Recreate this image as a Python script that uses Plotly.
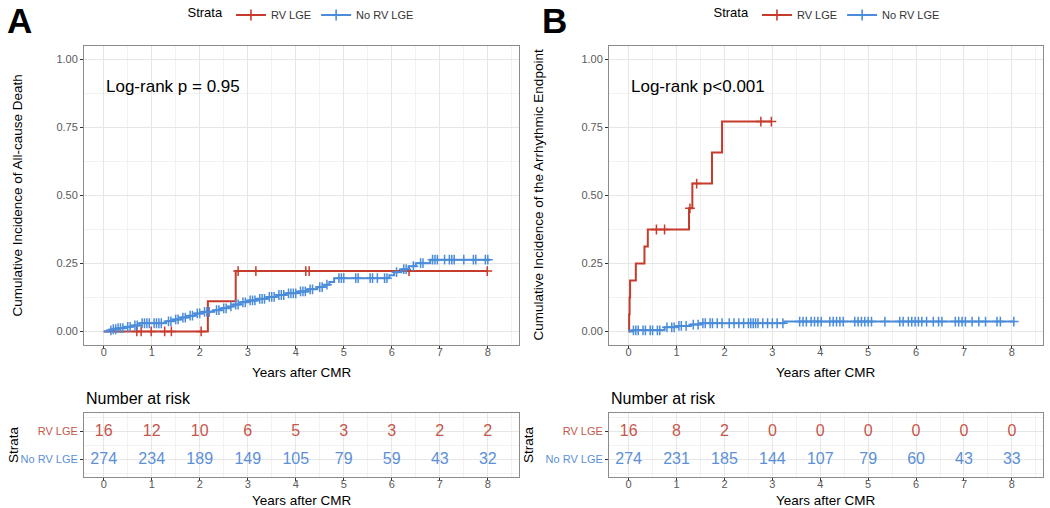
import plotly.graph_objects as go

# ---------------- data ----------------
RED = "#C63B2C"
BLUE = "#4A8CDA"
RED_TXT = "#C4564B"
BLUE_TXT = "#5C90D6"

years = [0, 1, 2, 3, 4, 5, 6, 7, 8]
strata = ["RV LGE", "No RV LGE"]

# Panel A: all-cause death
a_red_t = [0, 2.17, 2.75]
a_red_v = [0, 0.111, 0.222]
a_red_end = 8.0
a_red_cens = [0.69, 0.78, 0.99, 1.27, 1.41, 2.03, 2.8, 3.17, 4.21, 4.28, 6.36, 7.99]

a_blue_t = [0, 0.1, 0.2, 0.3, 0.45, 0.6, 0.75, 1.3, 1.45, 1.6, 1.75, 1.9, 2.05, 2.3, 2.45,
            2.6, 2.7, 2.85, 3.0, 3.2, 3.4, 3.6, 3.8, 4.05, 4.25, 4.45, 4.6, 4.7, 4.8, 5.95,
            6.05, 6.2, 6.35, 6.5, 6.8]
a_blue_v = [0, 0.004, 0.008, 0.012, 0.017, 0.022, 0.030, 0.037, 0.044, 0.051, 0.058, 0.066,
            0.072, 0.078, 0.085, 0.092, 0.099, 0.107, 0.114, 0.120, 0.127, 0.134, 0.140,
            0.147, 0.155, 0.163, 0.172, 0.182, 0.196, 0.207, 0.218, 0.229, 0.240, 0.251, 0.264]
a_blue_end = 8.05
a_blue_cens = [0.15, 0.2, 0.25, 0.3, 0.35, 0.4, 0.5, 0.55, 0.65, 0.7, 0.8, 0.85, 0.9, 0.95,
               1.05, 1.1, 1.15, 1.2, 1.35, 1.4, 1.5, 1.55, 1.65, 1.7, 1.8, 1.85, 1.95, 2.0,
               2.1, 2.15, 2.2, 2.35, 2.4, 2.5, 2.55, 2.65, 2.75, 2.8, 2.9, 2.95, 3.05, 3.1,
               3.15, 3.25, 3.3, 3.35, 3.45, 3.5, 3.55, 3.65, 3.7, 3.75, 3.85, 3.9, 3.95, 4.0,
               4.1, 4.15, 4.2, 4.3, 4.35, 4.5, 4.55, 4.65, 4.9, 4.95, 5.0, 5.25, 5.3, 5.55,
               5.6, 5.7, 5.85, 5.9, 6.1, 6.25, 6.3, 6.45, 6.6, 6.65, 6.85, 6.9, 6.95, 7.1,
               7.2, 7.25, 7.3, 7.5, 7.7, 7.75, 7.95, 8.0]

# Panel B: arrhythmic endpoint
b_red_t = [0, 0.01, 0.02, 0.03, 0.15, 0.33, 0.4, 1.26, 1.33, 1.74, 1.95]
b_red_v = [0, 0.0625, 0.125, 0.1875, 0.25, 0.3125, 0.375, 0.453, 0.544, 0.658, 0.772]
b_red_end = 2.98
b_red_cens = [0.58, 0.75, 1.28, 1.42, 2.76, 2.98]

b_blue_t = [0, 0.1, 0.75, 1.0, 1.3, 1.5, 3.25]
b_blue_v = [0, 0.004, 0.015, 0.02, 0.025, 0.03, 0.036]
b_blue_end = 8.05
b_blue_cens = [0.1, 0.15, 0.2, 0.3, 0.35, 0.45, 0.5, 0.6, 0.65, 0.8, 0.9, 0.95, 1.05, 1.1,
               1.2, 1.35, 1.45, 1.55, 1.6, 1.7, 1.75, 1.85, 1.95, 2.1, 2.2, 2.3, 2.4, 2.5,
               2.55, 2.6, 2.65, 2.7, 2.8, 2.9, 3.0, 3.1, 3.22, 3.57, 3.64, 3.71, 3.81, 3.88,
               3.95, 4.02, 4.2, 4.27, 4.34, 4.41, 4.48, 4.72, 4.79, 4.86, 4.93, 5.0, 5.07,
               5.35, 5.66, 5.73, 5.84, 5.91, 5.98, 6.05, 6.12, 6.22, 6.36, 6.47, 6.54, 6.82,
               6.89, 6.96, 7.03, 7.17, 7.31, 7.45, 7.69, 7.76, 8.04]

# Number at risk
risk_a_red = [16, 12, 10, 6, 5, 3, 3, 2, 2]
risk_a_blue = [274, 234, 189, 149, 105, 79, 59, 43, 32]
risk_b_red = [16, 8, 2, 0, 0, 0, 0, 0, 0]
risk_b_blue = [274, 231, 185, 144, 107, 79, 60, 43, 33]

# ---------------- helpers ----------------
FONT = "Liberation Sans, Arial, sans-serif"


def step_at(ts, vs, t):
    v = vs[0]
    for ti, vi in zip(ts, vs):
        if ti <= t:
            v = vi
    return v


fig = go.Figure()


def add_curve(ts, vs, end, cens, color, name, xa, ya, legend):
    fig.add_trace(go.Scatter(
        x=ts + [end], y=vs + [vs[-1]], mode="lines", line=dict(color=color, width=2, shape="hv"),
        xaxis=xa, yaxis=ya, showlegend=False, hoverinfo="skip"))
    fig.add_trace(go.Scatter(
        x=cens, y=[step_at(ts, vs, c) for c in cens], mode="markers",
        marker=dict(symbol="cross-thin", size=7, line=dict(color=color, width=1.5)),
        xaxis=xa, yaxis=ya, showlegend=False, hoverinfo="skip"))
    fig.add_trace(go.Scatter(
        x=[None], y=[None], mode="lines+markers", name=name,
        line=dict(color=color, width=2),
        marker=dict(symbol="cross-thin", size=8, line=dict(color=color, width=1.6)),
        xaxis=xa, yaxis=ya, legend=legend))


add_curve(a_red_t, a_red_v, a_red_end, a_red_cens, RED, strata[0], "x", "y", "legend")
add_curve(a_blue_t, a_blue_v, a_blue_end, a_blue_cens, BLUE, strata[1], "x", "y", "legend")
add_curve(b_red_t, b_red_v, b_red_end, b_red_cens, RED, strata[0], "x2", "y2", "legend2")
add_curve(b_blue_t, b_blue_v, b_blue_end, b_blue_cens, BLUE, strata[1], "x2", "y2", "legend2")

for xa, ya, rr, rb in [("x3", "y3", risk_a_red, risk_a_blue), ("x4", "y4", risk_b_red, risk_b_blue)]:
    fig.add_trace(go.Scatter(x=years, y=[2] * len(years), text=[str(v) for v in rr], mode="text",
                             textfont=dict(size=16, color=RED_TXT, family=FONT),
                             xaxis=xa, yaxis=ya, showlegend=False, hoverinfo="skip"))
    fig.add_trace(go.Scatter(x=years, y=[1] * len(years), text=[str(v) for v in rb], mode="text",
                             textfont=dict(size=16, color=BLUE_TXT, family=FONT),
                             xaxis=xa, yaxis=ya, showlegend=False, hoverinfo="skip"))

W, H = 1050, 508
def px(x):
    return x / W
def py(y):
    return 1 - y / H

A_X = [px(84), px(519)]
B_X = [px(609), px(1043)]
MAIN_Y = [py(345), py(46)]
RISK_Y = [py(477), py(413)]

GRID = "#E6E6E6"
MINOR = "#F2F2F2"
BORDER = "#8C8C8C"
TICKF = dict(size=11, color="#5A5A5A", family=FONT)

xcommon = dict(range=[-0.41, 8.65], tickvals=years, ticks="outside", ticklen=3, tickcolor="#333",
               tickwidth=1, showline=True, mirror=True, linecolor=BORDER, linewidth=1,
               showgrid=True, gridcolor=GRID, gridwidth=1, zeroline=False, tickfont=TICKF,
               ticklabelstandoff=-6,
               minor=dict(dtick=0.5, tick0=0.5, showgrid=True, gridcolor=MINOR, ticks=""))
ycommon = dict(range=[-0.05, 1.05], tickvals=[0, 0.25, 0.5, 0.75, 1.0],
               ticktext=["0.00", "0.25", "0.50", "0.75", "1.00"], ticks="outside", ticklen=3,
               tickcolor="#333", tickwidth=1, showline=True, mirror=True, linecolor=BORDER,
               linewidth=1, showgrid=True, gridcolor=GRID, zeroline=False, tickfont=TICKF,
               minor=dict(dtick=0.25, tick0=0.125, showgrid=True, gridcolor=MINOR, ticks=""))
yrisk = dict(range=[0.38, 2.66], tickvals=[1, 2],
             ticktext=[f"<span style='color:{BLUE_TXT}'>No RV LGE</span>",
                       f"<span style='color:{RED_TXT}'>RV LGE</span>"],
             ticks="outside", ticklen=3, tickcolor="#333", showline=True, mirror=True,
             linecolor=BORDER, showgrid=True, gridcolor=GRID, zeroline=False, tickfont=TICKF,
             minor=dict(dtick=0.5, tick0=0.5, showgrid=True, gridcolor=MINOR, ticks=""))

LEG = dict(title=dict(text="Strata", side="left", font=dict(size=13, color="#000")),
           orientation="h", xanchor="center", y=py(15), yanchor="middle",
           font=dict(size=11, color="#333"), bgcolor="rgba(0,0,0,0)", itemwidth=30)

fig.update_layout(
    width=W, height=H, margin=dict(l=0, r=0, t=0, b=0),
    paper_bgcolor="white", plot_bgcolor="white",
    font=dict(family=FONT, color="#000"),
    xaxis=dict(domain=A_X, anchor="y", **xcommon),
    yaxis=dict(domain=MAIN_Y, anchor="x", **ycommon),
    xaxis2=dict(domain=B_X, anchor="y2", **xcommon),
    yaxis2=dict(domain=MAIN_Y, anchor="x2", **ycommon),
    xaxis3=dict(domain=A_X, anchor="y3", **xcommon),
    yaxis3=dict(domain=RISK_Y, anchor="x3", **yrisk),
    xaxis4=dict(domain=B_X, anchor="y4", **xcommon),
    yaxis4=dict(domain=RISK_Y, anchor="x4", **yrisk),
    showlegend=True,
    legend=dict(x=px(302), **LEG),
    legend2=dict(x=px(828), **LEG),
)

ann = []
# panel letters
ann.append(dict(text="<b>A</b>", x=px(19), y=py(20), xref="paper", yref="paper",
                xanchor="center", yanchor="middle",
                showarrow=False, font=dict(size=35, color="#000")))
ann.append(dict(text="<b>B</b>", x=px(554), y=py(20), xref="paper", yref="paper",
                xanchor="center", yanchor="middle",
                showarrow=False, font=dict(size=35, color="#000")))
# log-rank
ann.append(dict(text="Log-rank p = 0.95", x=0, y=0.9, xref="x", yref="y", xanchor="left",
                yanchor="middle", showarrow=False, font=dict(size=17, color="#000")))
ann.append(dict(text="Log-rank p<0.001", x=0, y=0.9, xref="x2", yref="y2", xanchor="left",
                yanchor="middle", showarrow=False, font=dict(size=17, color="#000")))
# y titles
ann.append(dict(text="Cumulative Incidence of All-cause Death", x=px(17), y=sum(MAIN_Y) / 2,
                xref="paper", yref="paper", textangle=-90, showarrow=False,
                xanchor="center", yanchor="middle", font=dict(size=13.5, color="#000")))
ann.append(dict(text="Cumulative Incidence of the Arrhythmic Endpoint", x=px(538),
                y=sum(MAIN_Y) / 2, xref="paper", yref="paper", textangle=-90, showarrow=False,
                xanchor="center", yanchor="middle", font=dict(size=13.5, color="#000")))
# x titles
for xd in (A_X, B_X):
    ann.append(dict(text="Years after CMR", x=sum(xd) / 2, y=py(372), xref="paper", yref="paper",
                    showarrow=False, xanchor="center", yanchor="middle",
                    font=dict(size=13.5, color="#000")))
    ann.append(dict(text="Years after CMR", x=sum(xd) / 2, y=py(500), xref="paper", yref="paper",
                    showarrow=False, xanchor="center", yanchor="middle",
                    font=dict(size=13.5, color="#000")))
    ann.append(dict(text="Number at risk", x=xd[0], y=py(398), xref="paper", yref="paper",
                    xanchor="left", yanchor="middle", showarrow=False,
                    font=dict(size=16, color="#000")))
# risk strata titles
ann.append(dict(text="Strata", x=px(13), y=sum(RISK_Y) / 2, xref="paper", yref="paper",
                textangle=-90, showarrow=False, xanchor="center", yanchor="middle",
                font=dict(size=13.5, color="#000")))
ann.append(dict(text="Strata", x=px(528), y=sum(RISK_Y) / 2, xref="paper", yref="paper",
                textangle=-90, showarrow=False, xanchor="center", yanchor="middle",
                font=dict(size=13.5, color="#000")))
fig.update_layout(annotations=ann)

fig.write_html("out.html", config={"displayModeBar": False},
               post_script="document.body.style.margin='0px';document.body.style.overflow='hidden';")
